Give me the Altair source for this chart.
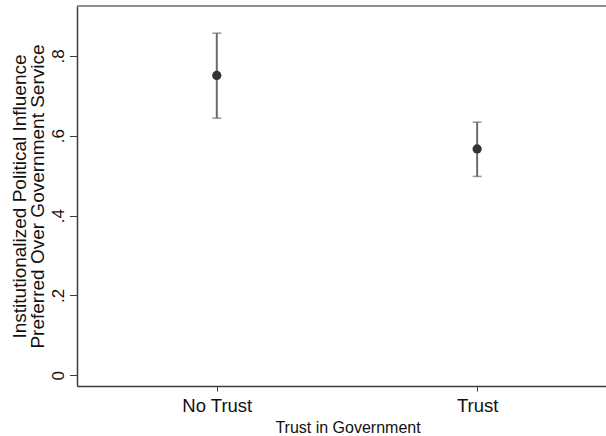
import altair as alt
import pandas as pd

# Estimated share preferring institutionalized influence, with 95% CIs
categories = ["No Trust", "Trust"]
estimates = [0.751, 0.567]
ci_low = [0.644, 0.498]
ci_high = [0.857, 0.634]
y_ticks = [0, 0.2, 0.4, 0.6, 0.8]

df = pd.DataFrame({
    "group": categories,
    "pos": list(range(1, len(categories) + 1)),
    "est": estimates,
    "lo": ci_low,
    "hi": ci_high,
})

W, H = 529, 380
FONT = "Liberation Sans"
INK = "#111111"
AXIS_GREY = "#3c3c3c"
BAR_GREY = "#6b6b6b"

x_label_expr = " : ".join(
    f"datum.value == {i + 1} ? '{c}'" for i, c in enumerate(categories)
) + " : ''"

x_enc = alt.X(
    "pos:Q",
    scale=alt.Scale(domain=[0.463, 2.495], nice=False, zero=False),
    axis=alt.Axis(
        values=[1, 2],
        labelExpr=x_label_expr,
        grid=False,
        title="Trust in Government",
        titleFont=FONT, titleFontSize=16, titleFontWeight="normal", titleColor=INK,
        titleX=270.5, titleY=46.7, titleBaseline="alphabetic", titleAlign="center",
        labelFont=FONT, labelFontSize=18.5, labelColor=INK,
        labelBaseline="alphabetic", labelPadding=20.7, labelFlush=False,
        tickSize=5, tickColor=AXIS_GREY, tickWidth=1,
        domainColor=AXIS_GREY, domainWidth=1.5,
    ),
)

y_scale = alt.Scale(domain=[-0.027, 0.925], nice=False, zero=False)
y_axis = alt.Axis(
    values=y_ticks,
    labelExpr="datum.value == 0 ? '0' : substring(format(datum.value, '.1f'), 1)",
    grid=False,
    title=["Institutionalized Political Influence", "Preferred Over Government Service"],
    titleFont=FONT, titleFontSize=19, titleFontWeight="normal", titleColor=INK,
    titleLineHeight=18, titleAngle=270, titleX=-52, titleY=H / 2,
    titleBaseline="alphabetic", titleAlign="center",
    labelFont=FONT, labelFontSize=17, labelColor=INK,
    labelAngle=270, labelAlign="center", labelBaseline="alphabetic", labelPadding=6.5,
    tickSize=7.5, tickColor=AXIS_GREY, tickWidth=1,
    domainColor=AXIS_GREY, domainWidth=1.5,
)

base = alt.Chart(df).encode(x=x_enc)

ci_lines = base.mark_rule(color=BAR_GREY, strokeWidth=2).encode(
    y=alt.Y("lo:Q", scale=y_scale, axis=y_axis), y2="hi:Q"
)
cap_low = base.mark_tick(orient="horizontal", size=9, thickness=1.5, color=BAR_GREY).encode(
    y=alt.Y("lo:Q", scale=y_scale, axis=y_axis)
)
cap_high = base.mark_tick(orient="horizontal", size=9, thickness=1.5, color=BAR_GREY).encode(
    y=alt.Y("hi:Q", scale=y_scale, axis=y_axis)
)
points = base.mark_circle(size=85, color="#333333", opacity=1).encode(
    y=alt.Y("est:Q", scale=y_scale, axis=y_axis)
)

# Plot-region outline along the top edge
top_edge = alt.Chart(df).mark_rule(color="#8e8e8e", strokeWidth=2).encode(
    x=alt.value(0), x2=alt.value(W), y=alt.value(0)
)

chart = (
    alt.layer(top_edge, ci_lines, cap_low, cap_high, points)
    .properties(
        width=W,
        height=H,
        autosize=alt.AutoSizeParams(type="none"),
        padding={"left": 77, "top": 6, "right": 0, "bottom": 50},
        background="white",
    )
    .configure_view(strokeWidth=0)
)

chart.save("out.html", embed_options={"renderer": "svg", "actions": False})
